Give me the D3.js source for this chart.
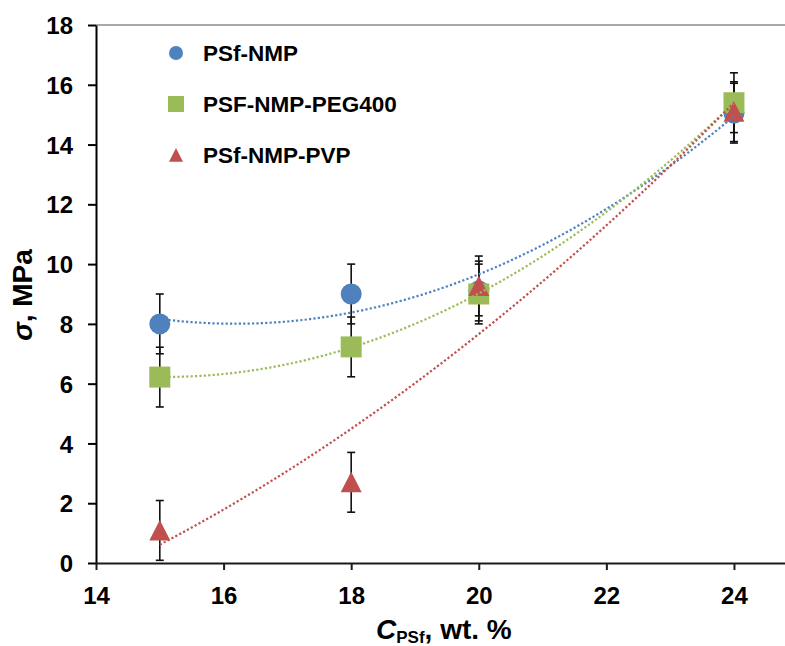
<!DOCTYPE html>
<html>
<head>
<meta charset="utf-8">
<script src="https://cdn.jsdelivr.net/npm/d3@7"></script>
<style>
  body { margin: 0; background: #fff; }
  svg { display: block; }
  text { font-family: "Liberation Sans", Arial, sans-serif; font-weight: bold; fill: #000; }
</style>
</head>
<body>
<div id="chart"></div>
<script>
// data
var concentrations = [15, 18, 20, 24];
var seriesNames = ["PSf-NMP", "PSF-NMP-PEG400", "PSf-NMP-PVP"];
var psfNmp = [8.0, 9.0, 9.1, 15.05];
var psfPeg = [6.22, 7.23, 9.0, 15.4];
var psfPvp = [1.09, 2.7, 9.27, 15.1];
var errNmp = [1, 1, 1, 1];
var errPeg = [1, 1, 1, 1];
var errPvp = [1, 1, 1, 1];
var xTicks = [14, 16, 18, 20, 22, 24];
var yTicks = [0, 2, 4, 6, 8, 10, 12, 14, 16, 18];

var width = 785, height = 646;
var colors = ["#4F81BD", "#9BBB59", "#C0504D"];
var shapes = ["circle", "square", "triangle"];

var series = [
  { name: seriesNames[0], values: psfNmp, err: errNmp, color: colors[0], shape: shapes[0] },
  { name: seriesNames[1], values: psfPeg, err: errPeg, color: colors[1], shape: shapes[1] },
  { name: seriesNames[2], values: psfPvp, err: errPvp, color: colors[2], shape: shapes[2] }
];

var svg = d3.select("#chart")
  .append("svg")
  .attr("width", width)
  .attr("height", height);

var xScale = d3.scaleLinear()
  .domain([14, 24.8])
  .range([96, 785]);

var yScale = d3.scaleLinear()
  .domain([0, 18])
  .range([563, 25]);

// top border of plot area
svg.append("line")
  .attr("x1", xScale(14)).attr("x2", width)
  .attr("y1", yScale(18)).attr("y2", yScale(18))
  .style("stroke", "#8c8c8c")
  .style("stroke-width", 1.3);

// Y axis
var yAxis = d3.axisLeft(yScale)
  .tickValues(yTicks)
  .tickSize(8)
  .tickSizeOuter(0)
  .tickPadding(15)
  .tickFormat(d3.format("d"));

svg.append("g")
  .attr("transform", `translate(${xScale(14)},0)`)
  .attr("class", "y-axis")
  .call(yAxis)
  .call(g => g.selectAll("path, line").style("stroke", "#000").style("stroke-width", 2))
  .selectAll("text")
  .style("font-size", "24px")
  .style("font-family", '"Liberation Sans", Arial, sans-serif')
  .style("font-weight", "bold")
  .attr("dy", "0.36em");

// X axis
var xAxis = d3.axisBottom(xScale)
  .tickValues(xTicks)
  .tickSize(7)
  .tickSizeOuter(0)
  .tickFormat(d3.format("d"));

svg.append("g")
  .attr("transform", `translate(0,${yScale(0)})`)
  .attr("class", "x-axis")
  .call(xAxis)
  .call(g => g.selectAll("path, line").style("stroke", "#1a1a1a").style("stroke-width", 2))
  .selectAll("text")
  .style("font-size", "24px")
  .style("font-family", '"Liberation Sans", Arial, sans-serif')
  .style("font-weight", "bold")
  .attr("y", 41)
  .attr("dy", 0);

// axis titles
svg.append("text")
  .attr("transform", `translate(32,295) rotate(-90)`)
  .style("text-anchor", "middle")
  .style("font-size", "28px")
  .html('<tspan style="font-style:italic">σ</tspan>, MPa');

var xTitle = svg.append("text")
  .attr("x", 376)
  .attr("y", 639)
  .style("font-size", "28px");
xTitle.append("tspan").style("font-style", "italic").text("C");
xTitle.append("tspan").attr("dy", 4).style("font-size", "17px").text("PSf");
xTitle.append("tspan").attr("dy", -4).text(", wt. %");

// marker path builder
function markerPath(shape, s) {
  var p = d3.path();
  if (shape === "circle") {
    p.arc(0, 0, s / 2, 0, 2 * Math.PI);
  } else if (shape === "square") {
    p.rect(-s / 2, -s / 2, s, s);
  } else {
    p.moveTo(0, -s / 2);
    p.lineTo(s / 2, s / 2 * 0.95);
    p.lineTo(-s / 2, s / 2 * 0.95);
    p.closePath();
  }
  return p.toString();
}

// error bars
var errG = svg.append("g").attr("class", "errors");
series.forEach(function(s) {
  var pts = concentrations.map((c, i) => ({ x: c, y: s.values[i], e: s.err[i] }));
  var g = errG.selectAll(null).data(pts).enter().append("g")
    .style("stroke", "#111")
    .style("stroke-width", 1.6);
  g.append("line")
    .attr("x1", d => xScale(d.x)).attr("x2", d => xScale(d.x))
    .attr("y1", d => yScale(d.y + d.e)).attr("y2", d => yScale(d.y - d.e));
  g.append("line")
    .attr("x1", d => xScale(d.x) - 4).attr("x2", d => xScale(d.x) + 4)
    .attr("y1", d => yScale(d.y + d.e)).attr("y2", d => yScale(d.y + d.e));
  g.append("line")
    .attr("x1", d => xScale(d.x) - 4).attr("x2", d => xScale(d.x) + 4)
    .attr("y1", d => yScale(d.y - d.e)).attr("y2", d => yScale(d.y - d.e));
});

// markers
series.forEach(function(s) {
  svg.append("g")
    .selectAll("path")
    .data(concentrations.map((c, i) => ({ x: c, y: s.values[i] })))
    .enter()
    .append("path")
    .attr("transform", d => `translate(${xScale(d.x)},${yScale(d.y)})`)
    .attr("d", markerPath(s.shape, 21))
    .style("fill", s.color);
});

// polynomial (order 2) least squares trendline, like the spreadsheet one
function quadFit(xs, ys) {
  var n = xs.length, S = [0, 0, 0, 0, 0], T = [0, 0, 0];
  for (var i = 0; i < n; i++) {
    for (var k = 0; k < 5; k++) S[k] += Math.pow(xs[i], k);
    for (var k2 = 0; k2 < 3; k2++) T[k2] += ys[i] * Math.pow(xs[i], k2);
  }
  var A = [[S[0], S[1], S[2], T[0]], [S[1], S[2], S[3], T[1]], [S[2], S[3], S[4], T[2]]];
  for (var c = 0; c < 3; c++) {
    for (var r = c + 1; r < 3; r++) {
      var f = A[r][c] / A[c][c];
      for (var j = c; j < 4; j++) A[r][j] -= f * A[c][j];
    }
  }
  var coef = [0, 0, 0];
  for (var r2 = 2; r2 >= 0; r2--) {
    var sum = A[r2][3];
    for (var j2 = r2 + 1; j2 < 3; j2++) sum -= A[r2][j2] * coef[j2];
    coef[r2] = sum / A[r2][r2];
  }
  return x => coef[0] + coef[1] * x + coef[2] * x * x;
}

var trendLine = d3.line()
  .x(d => xScale(d[0]))
  .y(d => yScale(d[1]));

series.forEach(function(s) {
  var fit = quadFit(concentrations, s.values);
  var xs = d3.range(15, 24.001, 0.05);
  svg.append("path")
    .attr("class", "trend")
    .attr("d", trendLine(xs.map(x => [x, fit(x)])))
    .style("fill", "none")
    .style("stroke", s.color)
    .style("stroke-width", 2.2)
    .style("stroke-dasharray", "2.2,2.2");
});

// legend
var legendY = [53, 104, 155];
var legend = svg.append("g").attr("class", "legend");
series.forEach(function(s, i) {
  var size = s.shape === "circle" ? 14 : (s.shape === "square" ? 16 : 14);
  legend.append("path")
    .attr("transform", `translate(176,${legendY[i]})`)
    .attr("d", markerPath(s.shape, size))
    .style("fill", s.color);
  legend.append("text")
    .attr("x", 203)
    .attr("y", legendY[i])
    .attr("dy", "0.36em")
    .style("font-size", "22.5px")
    .text(s.name);
});
</script>
</body>
</html>
